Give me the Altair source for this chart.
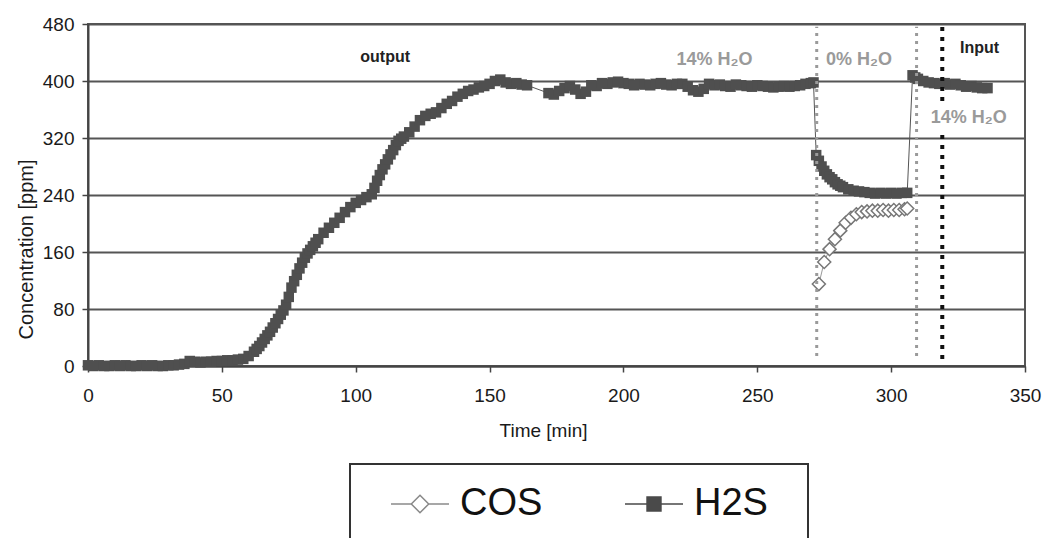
import altair as alt
import pandas as pd

FONT = "Liberation Sans, DejaVu Sans, Arial"

# ---------------- data ----------------
# H2S, breakthrough with 14% H2O
h2s_time_a = [0, 2, 4, 6, 8, 10, 12, 14, 16, 18, 20, 22, 24, 26, 28, 30, 32, 34,
              36, 38, 40, 42, 44, 46, 48, 50, 52, 54, 56,
              58, 60, 62, 63, 64, 65, 66, 67, 68, 69, 70, 71, 72, 73, 74, 75, 76,
              77, 78, 79, 80, 81, 82, 83, 84, 85, 86, 88, 90,
              92, 94, 96, 98, 100, 102, 104, 106, 107, 108, 109, 110, 111, 112,
              113, 114, 115, 116, 117, 118,
              120, 122, 124, 126, 128, 130, 132, 134, 136, 138, 140, 142, 144,
              146, 148, 150, 152, 154, 156, 158, 160, 162, 164]
h2s_ppm_a = [1, 0, 1, 0, 0, 1, 0, 1, 0, 0, 1, 0, 1, 0, 0, 1, 1, 2,
             3, 7, 6, 5, 6, 6, 7, 7, 8, 8, 9,
             10, 14, 20, 24, 28, 33, 38, 43, 48, 54, 60, 66, 72, 78, 86, 97, 110,
             119, 128, 137, 145, 152, 158, 163, 168, 173, 178, 187, 194,
             201, 208, 216, 223, 229, 233, 237, 241, 250, 260, 268, 276, 283, 290,
             297, 303, 310, 316, 319, 322,
             328, 336, 345, 351, 354, 356, 362, 368, 372, 378, 382, 386, 388,
             391, 393, 396, 400, 402, 398, 396, 397, 395, 394]
h2s_time_b = [172, 174, 176, 178, 180, 182, 184, 186, 188, 190,
              192, 194, 196, 198, 200, 202, 204, 206, 208, 210,
              212, 214, 216, 218, 220, 222, 224, 226, 228, 230,
              232, 234, 236, 238, 240, 242, 244, 246, 248, 250,
              252, 254, 256, 258, 260, 262, 264, 266, 268, 270, 271]
h2s_ppm_b = [383, 381, 386, 390, 393, 388, 382, 385, 394, 393,
             397, 396, 398, 399, 397, 396, 394, 396, 395, 394,
             396, 397, 395, 394, 396, 396, 392, 387, 385, 389,
             396, 394, 395, 393, 392, 395, 394, 393, 392, 394,
             393, 392, 391, 392, 393, 392, 393, 394, 396, 397, 398]
# H2S with 0% H2O
h2s_time_c = [272, 273, 274, 275, 276, 277, 278, 279, 280, 281, 282, 284, 286,
              288, 290, 292, 294, 296, 298, 300, 302, 304, 306]
h2s_ppm_c = [296, 288, 280, 274, 269, 265, 262, 258, 255, 253, 251, 248, 246,
             245, 244, 243, 242, 243, 242, 243, 242, 243, 243]
# H2S back at 14% H2O
h2s_time_d = [308, 309, 310, 312, 314, 316, 318, 320, 322, 324, 326, 328, 330,
              332, 334, 336]
h2s_ppm_d = [408, 405, 403, 400, 398, 397, 396, 397, 395, 396, 394, 392, 393,
             391, 390, 390]

# COS (only formed at 0% H2O)
cos_time = [273, 275, 277, 279, 281, 283, 285, 287, 289, 291, 293, 295, 297,
            299, 301, 303, 305, 306]
cos_ppm = [115, 146, 164, 178, 190, 201, 208, 213, 216, 217, 218, 218, 219,
           218, 219, 219, 220, 221]

# switching events (dotted vertical lines)
gray_event_time = [272.2, 309.5]
gray_event_from = [14, 14]
gray_event_to = [476, 476]
black_event_time = [319.1, 319.1]
black_event_from = [10, 372]
black_event_to = [328, 477]

# annotations
bold_note_text = ["output", "Input"]
bold_note_time = [111, 333]
bold_note_ppm = [434, 446]
gray_note_text = ["14% H\u2082O", "0% H\u2082O", "14% H\u2082O"]
gray_note_time = [234, 288, 329]
gray_note_ppm = [429, 429, 348]

series_names = ["COS", "H2S"]
x_ticks = [0, 50, 100, 150, 200, 250, 300, 350]
y_ticks = [0, 80, 160, 240, 320, 400, 480]

# ---------------- tables ----------------
h2s_t = h2s_time_a + h2s_time_b + h2s_time_c + h2s_time_d
h2s_v = h2s_ppm_a + h2s_ppm_b + h2s_ppm_c + h2s_ppm_d
h2s = pd.DataFrame({"t": h2s_t, "v": h2s_v, "o": list(range(len(h2s_t)))})
cos = pd.DataFrame({"t": cos_time, "v": cos_ppm, "o": list(range(len(cos_time)))})
gray_ev = pd.DataFrame({"t": gray_event_time, "v1": gray_event_from, "v2": gray_event_to})
black_ev = pd.DataFrame({"t": black_event_time, "v1": black_event_from, "v2": black_event_to})
bold_notes = pd.DataFrame({"t": bold_note_time, "v": bold_note_ppm, "label": bold_note_text})
gray_notes = pd.DataFrame({"t": gray_note_time, "v": gray_note_ppm, "label": gray_note_text})
legend_df = pd.DataFrame({"series": series_names})

xs = alt.Scale(domain=[0, 350], nice=False)
ys = alt.Scale(domain=[0, 480], nice=False)
X = alt.X("t:Q", scale=xs,
          axis=alt.Axis(values=x_ticks, title="Time [min]", grid=False, labelFlush=False,
                        tickSize=6, labelPadding=14, titlePadding=16, titleX=455))
Y = alt.Y("v:Q", scale=ys,
          axis=alt.Axis(values=y_ticks, title="Concentration [ppm]", grid=True,
                        tickSize=6, labelPadding=8, titlePadding=6, titleY=225,
                        titleFontSize=20))

h2s_line = alt.Chart(h2s).mark_line(color="#555555", strokeWidth=1).encode(
    x=X, y=Y, order="o:Q")
h2s_pts = alt.Chart(h2s).mark_point(shape="square", filled=True, size=110,
                                    color="#4f4f4f", opacity=1).encode(x=X, y=Y)
cos_line = alt.Chart(cos).mark_line(color="#9a9a9a", strokeWidth=1).encode(
    x=X, y=Y, order="o:Q")
cos_pts = alt.Chart(cos).mark_point(shape="diamond", filled=True, fill="white",
                                    stroke="#777777", strokeWidth=1.5, size=170,
                                    opacity=1).encode(x=X, y=Y)

gray_rules = alt.Chart(gray_ev).mark_rule(color="#9a9a9a", strokeDash=[3, 5],
                                          strokeWidth=3).encode(
    x="t:Q", y="v1:Q", y2="v2:Q")
black_rules = alt.Chart(black_ev).mark_rule(color="#111111", strokeDash=[4, 6],
                                            strokeWidth=4).encode(
    x="t:Q", y="v1:Q", y2="v2:Q")

bold_text = alt.Chart(bold_notes).mark_text(font=FONT, fontSize=16, fontWeight="bold",
                                            color="#222222").encode(
    x="t:Q", y="v:Q", text="label:N")
gray_text = alt.Chart(gray_notes).mark_text(font=FONT, fontSize=18, fontWeight="bold",
                                            color="#9a9a9a").encode(
    x="t:Q", y="v:Q", text="label:N")

cos_path = "M-1,0H-0.3M0.3,0H1M0,-0.3L0.3,0L0,0.3L-0.3,0Z"
h2s_path = "M-1,0H-0.24M0.24,0H1M-0.24,-0.24H0.24V0.24H-0.24Z"

leg = alt.Legend(title=".", titleOrient="right", titleOpacity=0, titleFontSize=10,
                 titlePadding=17,
                 orient="none", legendX=262, legendY=440,
                 direction="horizontal", symbolSize=3364, symbolStrokeWidth=1.5,
                 labelFontSize=38, labelFont=FONT, labelColor="#111111",
                 labelOffset=10, symbolOffset=20, columnPadding=61, padding=20,
                 clipHeight=40, strokeColor="#333333")

legend_layer = alt.Chart(legend_df).transform_filter("false").mark_point(
    filled=True, opacity=1).encode(
    shape=alt.Shape("series:N", scale=alt.Scale(domain=series_names,
                                                range=[cos_path, h2s_path]), legend=leg),
    fill=alt.Fill("series:N", scale=alt.Scale(domain=series_names,
                                              range=["white", "#4a4a4a"]), legend=leg),
    stroke=alt.Stroke("series:N", scale=alt.Scale(domain=series_names,
                                                  range=["#8a8a8a", "#4a4a4a"]), legend=leg),
)

chart = alt.layer(
    h2s_line, h2s_pts, cos_line, cos_pts, gray_rules, black_rules,
    bold_text, gray_text, legend_layer
).properties(
    width=937, height=342,
    padding={"left": 16, "top": 15, "right": 5, "bottom": 5},
    background="white",
).configure_view(
    stroke="#555555", strokeWidth=2
).configure_axis(
    labelFont=FONT, labelFontSize=19, labelColor="#1a1a1a",
    titleFont=FONT, titleFontSize=19, titleFontWeight="normal", titleColor="#1a1a1a",
    domainColor="#444444", domainWidth=2, tickColor="#444444", tickWidth=1.5,
    gridColor="#555555", gridWidth=2, gridOpacity=1,
).configure_legend(
    strokeWidth=2
)

chart.save("out.html", embed_options={"renderer": "svg", "actions": False})
